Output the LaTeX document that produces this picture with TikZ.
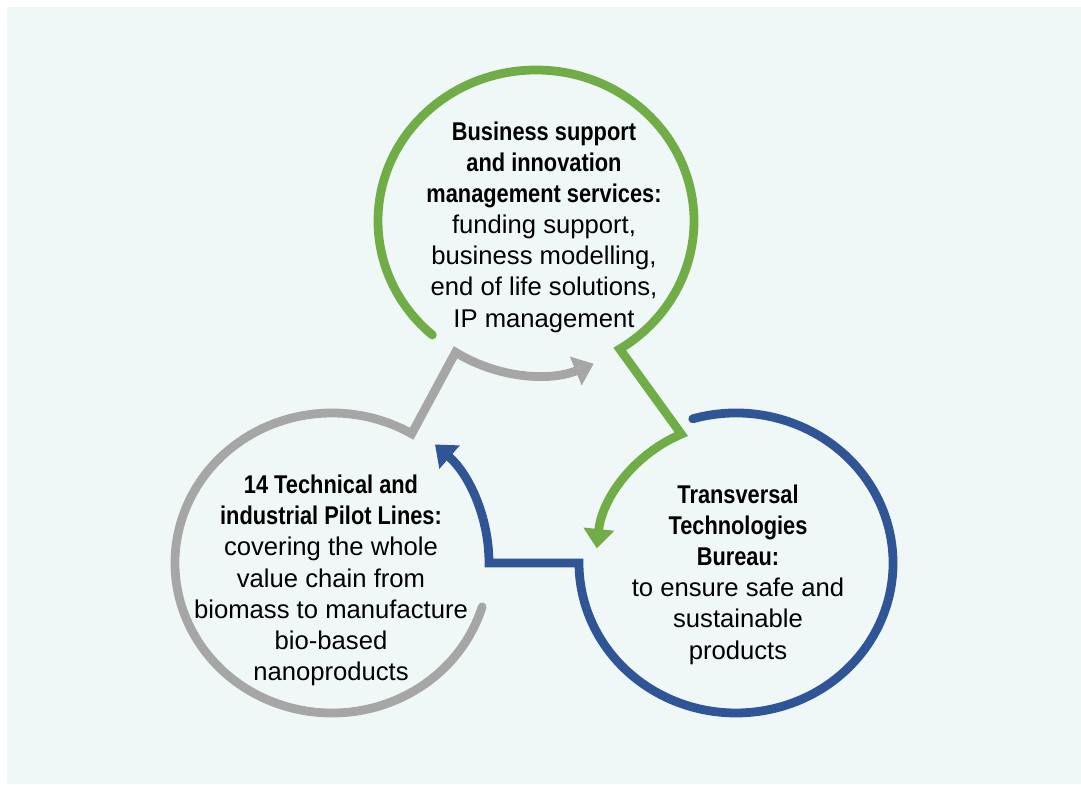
\documentclass[tikz,border=0pt]{standalone}
\usepackage{fontspec}
\setmainfont{Liberation Sans}
\newfontfamily\headfont[FakeStretch=0.85]{Liberation Sans Bold}
\usetikzlibrary{calc,arrows.meta}
\definecolor{leafgreen}{HTML}{70AD47}
\definecolor{bureaublue}{HTML}{2F5597}
\definecolor{pilotgray}{HTML}{A6A6A6}
\definecolor{mint}{HTML}{F0F8F7}
\newcommand{\headtext}[1]{{\headfont #1}}
\tikzset{
    loop/.style={line width=5pt,line cap=round,line join=miter},
    tip/.style={-{Triangle[width=17pt,length=11pt]}},
    blurb/.style={align=center,font=\fontsize{14.6}{17.75}\selectfont},
  }

\begin{document}
\begin{tikzpicture}[x=0.02cm,y=0.02cm]
		  %fond
		  \useasboundingbox (0,0) rectangle (1081,784);
		  \fill[mint] (7,0) rectangle (1081,777);
		  %centres des cercles
		  \coordinate (G) at (536,563);
		  \coordinate (B) at (736,221);
		  \coordinate (P) at (332,221);
		  %coins des fleches
		  \coordinate (Gc) at ($(B)+(113:140)$);
		  \coordinate (Pc) at ($(G)+(238.5:154)$);
		  \coordinate (Bc) at ($(P)+(0:157)$);
		  %cercles
		  \draw[loop,tip,leafgreen] ($(G)+(229:158 and 151)$) arc[start angle=229,end angle=-58,x radius=158,y radius=151] -- (Gc) arc[start angle=113,end angle=174,radius=140];
		  \draw[loop,tip,bureaublue] ($(B)+(106:157 and 150)$) arc[start angle=106,end angle=-180,x radius=157,y radius=150] -- (Bc) arc[start angle=0,end angle=49,radius=157];
		  \draw[loop,tip,pilotgray] ($(P)+(-17:157 and 150)$) arc[start angle=-17,end angle=-300.5,x radius=157,y radius=150] -- (Pc) arc[start angle=238.5,end angle=292,radius=154];
		  %textes
		  \node[blurb] (gtext) at (544,557) {\headtext{Business support}\\\headtext{and innovation}\\\headtext{management services:}\\funding support,\\business modelling,\\end of life solutions,\\IP management};
		  \node[blurb] (btext) at (738,209.5) {\headtext{Transversal}\\\headtext{Technologies}\\\headtext{Bureau:}\\to ensure safe and\\sustainable\\products};
		  \node[blurb] (ptext) at (331,203.5) {\headtext{14 Technical and}\\\headtext{industrial Pilot Lines:}\\covering the whole\\value chain from\\biomass to manufacture\\bio-based\\nanoproducts};
\end{tikzpicture}
\end{document}
